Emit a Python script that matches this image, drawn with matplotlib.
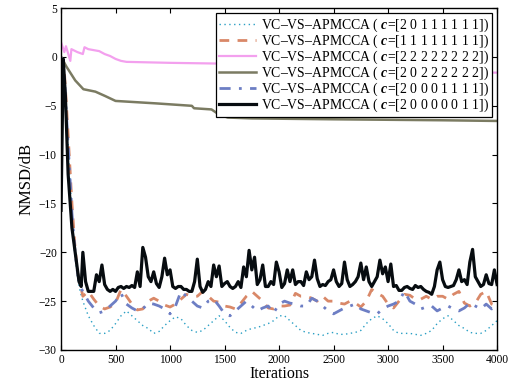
import matplotlib
matplotlib.use("Agg")
import matplotlib.pyplot as plt

plt.rcParams['font.family'] = ['Liberation Serif', 'DejaVu Serif']
plt.rcParams['mathtext.fontset'] = 'custom'
plt.rcParams['mathtext.rm'] = 'Liberation Serif'
plt.rcParams['mathtext.it'] = 'Liberation Serif:italic'
plt.rcParams['mathtext.bf'] = 'Liberation Serif:bold'
plt.rcParams['mathtext.bfit'] = 'Liberation Serif:italic:bold'

# ---------------- data ----------------
head_iters = [0, 25, 50, 75, 100, 125, 150, 175]
tail_iters = list(range(200, 4001, 50))

cyan_vals = [0.0, -1.0, -6.0, -11.0, -16.0, -20.0, -22.5, -24.0,
    -25.0, -26.5, -27.5, -28.3, -28.3, -28.0, -27.3, -26.5, -26.0, -26.5,
    -27.0, -27.5, -27.8, -28.3, -28.1, -27.5, -27.0, -26.6, -26.8, -27.5,
    -28.0, -28.2, -28.0, -27.5, -27.0, -26.5, -27.0, -27.7, -28.2, -28.3,
    -28.0, -27.8, -27.7, -27.5, -27.3, -27.0, -26.5, -26.5, -27.0, -27.5,
    -28.0, -28.2, -28.3, -28.4, -28.5, -28.3, -28.2, -28.4, -28.4, -28.3,
    -28.2, -28.0, -27.3, -26.8, -26.5, -26.8, -27.3, -28.0, -28.3, -28.3,
    -28.3, -28.4, -28.5, -28.3, -28.0, -27.3, -26.8, -26.5, -27.0, -27.5,
    -27.8, -28.2, -28.3, -28.3, -28.0, -27.5, -27.0]

orange_vals = [0.0, -0.5, -5.0, -10.0, -15.0, -19.0, -22.0, -23.2,
    -24.5, -24.0, -24.8, -25.5, -25.8, -25.6, -25.2, -23.8, -24.5, -25.3,
    -25.9, -25.8, -25.0, -24.7, -25.0, -25.4, -25.6, -25.3, -24.8, -24.3,
    -24.5, -24.5, -24.0, -24.5, -25.0, -25.1, -25.5, -25.6, -25.8, -25.2,
    -24.5, -24.0, -24.5, -25.0, -25.7, -25.8, -25.5, -25.5, -25.4, -24.2,
    -24.5, -24.5, -24.7, -25.0, -24.5, -25.0, -25.0, -25.2, -25.3, -25.0,
    -25.2, -25.6, -25.0, -23.8, -24.2, -24.5, -25.3, -25.7, -25.0, -24.3,
    -24.4, -24.8, -24.8, -24.5, -24.8, -24.5, -24.5, -24.8, -24.3, -24.0,
    -25.2, -25.5, -25.2, -24.3, -24.0, -25.3, -25.5]

blue_vals = [0.0, -1.0, -6.0, -11.0, -16.0, -19.5, -22.0, -23.5,
    -24.0, -25.0, -25.7, -26.2, -26.0, -25.5, -25.0, -24.2, -25.3, -25.7,
    -26.0, -25.8, -25.2, -25.3, -25.5, -25.8, -26.3, -25.5, -24.0, -24.5,
    -25.0, -25.5, -25.7, -25.0, -24.8, -25.5, -26.3, -26.5, -26.0, -25.5,
    -25.0, -25.5, -26.0, -25.7, -25.5, -26.2, -25.3, -25.0, -25.2, -25.3,
    -25.5, -25.5, -24.7, -25.0, -25.5, -26.0, -26.3, -26.0, -25.7, -25.5,
    -25.3, -25.8, -26.0, -26.2, -26.3, -25.8, -25.5, -25.3, -25.0, -24.0,
    -25.0, -25.3, -25.8, -25.6, -25.5, -26.0, -25.7, -25.5, -25.8, -26.0,
    -25.7, -25.2, -25.5, -25.8, -25.3, -25.8, -25.5]

pink_iters = [0, 30, 45, 85, 95, 150, 200, 215, 250, 300, 350, 400, 450,
              500, 550, 600, 800, 1000, 1300, 1600, 2000, 2500, 3000, 3500,
              3900, 4000]
pink_vals = [1.5, 0.5, 1.1, -0.4, 0.8, 0.5, 0.3, 1.0, 0.8, 0.7, 0.6, 0.3, 0.1,
             -0.2, -0.4, -0.5, -0.55, -0.6, -0.65, -0.7, -0.8, -1.0, -1.2, -1.4,
             -1.6, -1.6]

olive_iters = [0, 50, 130, 205, 315, 405, 500, 870, 1200, 1220, 1380, 1450,
               1530, 1750, 2000, 2500, 3000, 3500, 4000]
olive_vals = [0.0, -1.0, -2.4, -3.3, -3.55, -4.0, -4.5, -4.75, -5.0, -5.25,
              -5.37, -5.9, -6.2, -6.29, -6.32, -6.38, -6.43, -6.48, -6.55]

black_iters = [0, 20, 40, 65, 100, 135, 165, 185] + list(range(200, 4001, 25))
black_vals = [-15.7, -0.2, -4.0, -12.0, -17.5, -20.5, -23.0, -23.5,
    -20.0, -23.0, -24.0, -24.0, -24.0, -22.3, -23.0, -21.3, -23.3, -23.8,
    -24.0, -23.8, -24.0, -23.6, -23.5, -23.7, -23.5, -23.6, -23.4, -23.6,
    -22.0, -23.5, -19.5, -20.5, -22.5, -23.0, -22.0, -23.2, -23.6, -22.5,
    -20.6, -22.3, -21.8, -23.5, -23.7, -23.5, -23.5, -23.8, -23.8, -24.0,
    -24.0, -23.0, -20.7, -23.5, -24.1, -23.8, -23.0, -23.5, -21.3, -22.5,
    -21.4, -23.5, -23.2, -23.0, -23.5, -23.7, -23.5, -23.0, -23.6, -21.5,
    -22.5, -19.8, -21.8, -20.5, -23.3, -22.8, -21.3, -23.5, -23.5, -23.0,
    -23.3, -21.0, -22.0, -23.6, -23.2, -21.8, -23.0, -21.8, -23.3, -23.0,
    -23.0, -23.4, -22.0, -22.8, -22.5, -20.8, -22.7, -23.5, -23.3, -23.4,
    -23.0, -22.8, -21.8, -23.0, -23.5, -23.2, -21.0, -22.8, -23.5, -23.3,
    -23.0, -22.5, -21.1, -22.8, -21.5, -23.0, -23.5, -23.0, -22.5, -20.8,
    -22.2, -21.5, -23.0, -21.2, -23.5, -23.4, -23.9, -23.9, -23.6, -23.5,
    -23.7, -23.8, -23.4, -23.6, -23.5, -23.8, -24.0, -24.1, -24.3, -23.5,
    -21.8, -21.0, -22.8, -23.5, -23.6, -23.5, -23.4, -22.8, -21.8, -23.0,
    -22.8, -23.3, -21.0, -19.7, -22.5, -23.0, -23.5, -23.3, -22.3, -23.2,
    -23.3, -21.8, -23.3]

labels = [
    r'VC–VS–APMCCA ( $\mathbfit{c}$=[2 0 1 1 1 1 1 1])',
    r'VC–VS–APMCCA ( $\mathbfit{c}$=[1 1 1 1 1 1 1 1])',
    r'VC–VS–APMCCA ( $\mathbfit{c}$=[2 2 2 2 2 2 2 2])',
    r'VC–VS–APMCCA ( $\mathbfit{c}$=[2 0 2 2 2 2 2 2])',
    r'VC–VS–APMCCA ( $\mathbfit{c}$=[2 0 0 0 1 1 1 1])',
    r'VC–VS–APMCCA ( $\mathbfit{c}$=[2 0 0 0 0 0 1 1])',
]
x_ticks = [0, 500, 1000, 1500, 2000, 2500, 3000, 3500, 4000]
y_ticks = [-30, -25, -20, -15, -10, -5, 0, 5]

# ---------------- plot ----------------
fig = plt.figure(figsize=(5.13, 3.88), dpi=100)
ax = fig.add_axes([0.119, 0.098, 0.850, 0.881])

ax.plot(head_iters + tail_iters, cyan_vals, color='#2a9fc4', lw=1.0,
        linestyle=(0, (1, 2.5)), label=labels[0])
ax.plot(head_iters + tail_iters, orange_vals, color='#d98868', lw=2.0,
        linestyle=(0, (3.5, 3)), label=labels[1])
ax.plot(pink_iters, pink_vals, color='#f3a0ee', lw=1.6, label=labels[2])
ax.plot(olive_iters, olive_vals, color='#7b7b62', lw=1.8, label=labels[3])
ax.plot(head_iters + tail_iters, blue_vals, color='#6d7ec4', lw=2.0,
        linestyle=(0, (4, 3, 1, 3)), label=labels[4])
ax.plot(black_iters, black_vals, color='#070c10', lw=2.3, label=labels[5])

ax.set_xlim(0, 4000)
ax.set_ylim(-30, 5)
ax.set_xticks(x_ticks)
ax.set_yticks(y_ticks)
ax.tick_params(direction='in', top=True, right=True, labelsize=8.3,
               length=3.5, width=0.8, pad=3)
for s in ax.spines.values():
    s.set_linewidth(1.0)
ax.set_xlabel('Iterations', fontsize=11.5, labelpad=0)
ax.set_ylabel('NMSD/dB', fontsize=12, labelpad=3)

leg = ax.legend(loc='upper right', fontsize=9.9, frameon=True, fancybox=False,
                edgecolor='black', framealpha=1, handlelength=2.7,
                borderaxespad=0.35, labelspacing=-0.1, borderpad=0.25,
                handletextpad=0.35)
leg.get_frame().set_linewidth(0.9)

fig.savefig('out.png', dpi=100)
